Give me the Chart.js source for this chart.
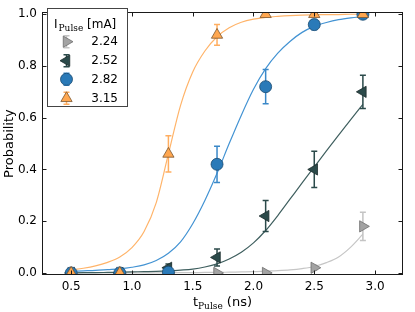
<!DOCTYPE html>
<html>
<head>
<meta charset="utf-8">
<script src="https://cdn.jsdelivr.net/npm/chart.js@4/dist/chart.umd.min.js"></script>
<style>
html,body{margin:0;padding:0;background:#fff;}
#wrap{width:415px;height:312px;position:relative;}
</style>
</head>
<body>
<div id="wrap"><canvas id="c" width="415" height="312"></canvas></div>
<script>
// ---- data ----
const tPulse = [0.5, 0.9, 1.3, 1.7, 2.1, 2.5, 2.9];
const currents = ['2.24', '2.52', '2.82', '3.15'];

const p224 = [0, 0, 0, 0, 0, 0.02, 0.18];
const e224 = [0, 0, 0, 0.005, 0.005, 0.01, 0.055];
const p252 = [0, 0, 0.02, 0.06, 0.22, 0.40, 0.70];
const e252 = [0, 0, 0.015, 0.033, 0.06, 0.07, 0.064];
const p282 = [0, 0, 0.003, 0.42, 0.72, 0.96, 1.0];
const e282 = [0, 0, 0.005, 0.07, 0.066, 0.02, 0.005];
const p315 = [0, 0, 0.46, 0.92, 1.0, 1.0, 1.0];
const e315 = [0, 0, 0.07, 0.04, 0, 0, 0];

// fitted curves
const tFit = [0.5,0.6,0.7,0.8,0.9,1.0,1.1,1.2,1.3,1.4,1.5,1.6,1.7,1.8,1.9,2.0,2.1,2.2,2.3,2.4,2.5,2.6,2.7,2.8,2.9];
const fit224 = [0,0,0,0,0,0,0,0,0.001,0.001,0.001,0.002,0.002,0.003,0.004,0.005,0.007,0.009,0.012,0.017,0.025,0.04,0.062,0.10,0.15];
const fit252 = [0,0.001,0.001,0.002,0.003,0.004,0.005,0.006,0.008,0.011,0.015,0.023,0.035,0.054,0.08,0.116,0.164,0.222,0.285,0.348,0.41,0.472,0.533,0.593,0.652];
const fit282 = [0.006,0.008,0.010,0.013,0.016,0.022,0.031,0.048,0.076,0.12,0.19,0.28,0.385,0.50,0.61,0.71,0.79,0.85,0.895,0.93,0.953,0.968,0.979,0.986,0.991];
const fit315 = [0.012,0.018,0.027,0.041,0.062,0.098,0.16,0.272,0.46,0.648,0.777,0.858,0.913,0.948,0.969,0.981,0.988,0.992,0.995,0.997,0.998,0.999,0.999,1.0,1.0];

const xTicks = [0.5, 1.0, 1.5, 2.0, 2.5, 3.0];
const yTicks = [0.0, 0.2, 0.4, 0.6, 0.8, 1.0];

// ---- styles ----
const styles = {
  '2.24': {fill:'#a3a3a3', edge:'#6e6e6e', line:'#c6c6c6', err:'#c4c4c4', shape:'triangle', rot:90, r:6.5},
  '2.52': {fill:'#2b4a4a', edge:'#1b2b2b', line:'#3f5f5f', err:'#2b4a4a', shape:'triangle', rot:-90, r:6.5},
  '2.82': {fill:'#2a7ab8', edge:'#1b4a70', line:'#4393d3', err:'#3a88c8', shape:'circle', rot:0, r:6},
  '3.15': {fill:'#ffa750', edge:'#7a5530', line:'#ffb46a', err:'#ffae60', shape:'triangle', rot:0, r:6.5}
};
const pts = {'2.24':[p224,e224], '2.52':[p252,e252], '2.82':[p282,e282], '3.15':[p315,e315]};
const fits = {'2.24':fit224, '2.52':fit252, '2.82':fit282, '3.15':fit315};

const datasets = [];
currents.forEach((c, k) => {
  const s = styles[c];
  datasets.push({
    label: c,
    type: 'line',
    data: tPulse.map((t,i)=>({x:t, y:pts[c][0][i]})),
    errors: pts[c][1],
    errColor: s.err,
    showLine: false,
    pointStyle: s.shape,
    pointRotation: s.rot,
    pointRadius: s.r,
    pointBackgroundColor: s.fill,
    pointBorderColor: s.edge,
    pointBorderWidth: 0.8,
    order: 3 - k
  });
  datasets.push({
    label: 'fit ' + c,
    type: 'line',
    data: tFit.map((t,i)=>({x:t, y:fits[c][i]})),
    borderColor: s.line,
    borderWidth: 1.2,
    pointRadius: 0,
    cubicInterpolationMode: 'monotone',
    fill: false,
    order: 10 + (3 - k)
  });
});

const FONT = 'DejaVu Sans';

const errorBars = {
  id: 'errorBars',
  beforeDatasetDraw(chart, args) {
    const ds = chart.data.datasets[args.index];
    if (!ds.errors) return;
    const xs = chart.scales.x, ys = chart.scales.y, ctx = chart.ctx;
    ctx.save();
    ctx.strokeStyle = ds.errColor;
    ctx.lineWidth = 1.5;
    ds.data.forEach((p, i) => {
      const e = ds.errors[i];
      if (!e) return;
      const px = xs.getPixelForValue(p.x);
      const y1 = ys.getPixelForValue(p.y + e);
      const y2 = ys.getPixelForValue(p.y - e);
      ctx.beginPath();
      ctx.moveTo(px, y1); ctx.lineTo(px, y2);
      ctx.moveTo(px-3, y1); ctx.lineTo(px+3, y1);
      ctx.moveTo(px-3, y2); ctx.lineTo(px+3, y2);
      ctx.stroke();
    });
    ctx.restore();
  }
};

function drawMarker(ctx, s, x, y) {
  ctx.save();
  ctx.fillStyle = s.fill; ctx.strokeStyle = s.edge; ctx.lineWidth = 0.8;
  ctx.beginPath();
  if (s.shape === 'circle') {
    ctx.arc(x, y, s.r, 0, Math.PI*2);
  } else {
    let rad = s.rot * Math.PI / 180;
    for (let k = 0; k < 3; k++) {
      const px = x + Math.sin(rad) * s.r, py = y - Math.cos(rad) * s.r;
      if (k === 0) ctx.moveTo(px, py); else ctx.lineTo(px, py);
      rad += 2*Math.PI/3;
    }
    ctx.closePath();
  }
  ctx.fill(); ctx.stroke();
  ctx.restore();
}

const frame = {
  id: 'frame',
  afterDraw(chart) {
    const ctx = chart.ctx, a = chart.chartArea;
    const xs = chart.scales.x, ys = chart.scales.y;
    const L = Math.round(a.left)+0.5, R = Math.round(a.right)-0.5, T = Math.round(a.top)+0.5, B = Math.round(a.bottom)-0.5;
    ctx.save();
    ctx.strokeStyle = '#1a1a1a';
    ctx.lineWidth = 1;
    ctx.strokeRect(L, T, R-L, B-T);
    ctx.beginPath();
    xTicks.forEach(v => {
      const px = Math.round(xs.getPixelForValue(v)) + 0.5;
      ctx.moveTo(px, B); ctx.lineTo(px, B-4);
      ctx.moveTo(px, T); ctx.lineTo(px, T+4);
    });
    yTicks.forEach(v => {
      const py = Math.round(ys.getPixelForValue(v)) + 0.5;
      ctx.moveTo(L, py); ctx.lineTo(L+4, py);
      ctx.moveTo(R, py); ctx.lineTo(R-4, py);
    });
    ctx.stroke();

    // x axis title with subscript
    ctx.fillStyle = '#000';
    ctx.textBaseline = 'alphabetic';
    const f1 = '13px "' + FONT + '"', f2 = '9px "DejaVu Serif"';
    ctx.font = f1; const wT = ctx.measureText('t').width;
    const wR = ctx.measureText(' (ns)').width;
    ctx.font = f2; const wS = ctx.measureText('Pulse').width;
    const total = wT + wS + wR;
    let x0 = (a.left + a.right)/2 - total/2;
    const base = 306;
    ctx.font = f1; ctx.fillText('t', x0, base);
    ctx.font = f2; ctx.fillText('Pulse', x0 + wT, base + 3);
    ctx.font = f1; ctx.fillText(' (ns)', x0 + wT + wS, base);

    // legend
    const bx = 47.5, by = 8.5, bw = 80, bh = 98;
    ctx.fillStyle = '#fff';
    ctx.fillRect(bx, by, bw, bh);
    ctx.strokeStyle = '#444';
    ctx.strokeRect(bx, by, bw, bh);
    ctx.fillStyle = '#000';
    const fl = '12px "' + FONT + '"';
    ctx.font = fl; ctx.fillText('I', 54, 28);
    const wI = ctx.measureText('I').width;
    ctx.font = f2; ctx.fillText('Pulse', 54 + wI + 1, 31);
    const wP = ctx.measureText('Pulse').width;
    ctx.font = fl; ctx.fillText(' [mA]', 54 + wI + 1 + wP, 28);
    const rows = [41.7, 60.7, 79.3, 98.3];
    currents.forEach((c, k) => {
      const s = styles[c];
      const mx = 66.5, my = rows[k];
      ctx.strokeStyle = s.err; ctx.lineWidth = 1.5;
      ctx.beginPath();
      ctx.moveTo(mx, my-6); ctx.lineTo(mx, my+6);
      ctx.moveTo(mx-3, my-6); ctx.lineTo(mx+3, my-6);
      ctx.moveTo(mx-3, my+6); ctx.lineTo(mx+3, my+6);
      ctx.stroke();
      drawMarker(ctx, s, mx, my);
      ctx.fillStyle = '#000'; ctx.font = fl;
      ctx.textAlign = 'right'; ctx.textBaseline = 'middle';
      ctx.fillText(c, 118, my + 0.5);
      ctx.textAlign = 'left'; ctx.textBaseline = 'alphabetic';
    });
    ctx.restore();
  }
};

new Chart(document.getElementById('c'), {
  type: 'line',
  data: { datasets },
  options: {
    responsive: false,
    devicePixelRatio: 1,
    animation: false,
    events: [],
    layout: { padding: { top: 5, right: 12, left: 0, bottom: 0 } },
    plugins: { legend: { display: false }, tooltip: { enabled: false } },
    scales: {
      x: {
        type: 'linear', min: 0.26, max: 3.23,
        grid: { display: false, drawTicks: false },
        border: { display: false },
        afterBuildTicks: s => { s.ticks = xTicks.map(v => ({ value: v })); },
        afterFit: s => { s.height = 37; },
        ticks: { color: '#000', font: { family: FONT, size: 12 }, padding: 5, maxRotation: 0,
                 callback: v => Number(v).toFixed(1) }
      },
      y: {
        type: 'linear', min: -0.008, max: 1.008,
        grid: { display: false, drawTicks: false },
        border: { display: false },
        afterBuildTicks: s => { s.ticks = yTicks.map(v => ({ value: v })); },
        afterFit: s => { s.width = 42; },
        title: { display: true, text: 'Probability', color: '#000', font: { family: FONT, size: 13 }, padding: { top: 2, bottom: 0 } },
        ticks: { color: '#000', font: { family: FONT, size: 12 }, padding: 5,
                 callback: v => Number(v).toFixed(1) }
      }
    }
  },
  plugins: [errorBars, frame]
});
</script>
</body>
</html>
